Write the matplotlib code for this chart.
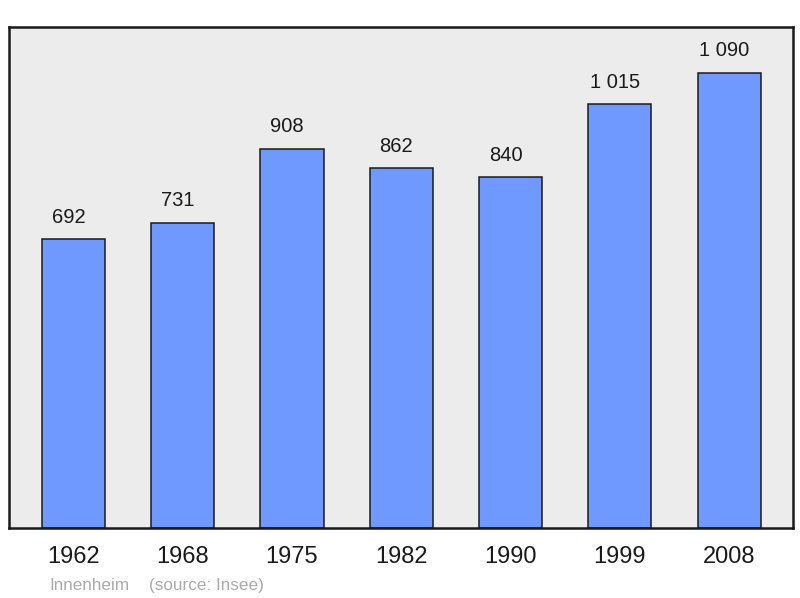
import matplotlib
matplotlib.use("Agg")
import matplotlib.pyplot as plt

years = ["1962", "1968", "1975", "1982", "1990", "1999", "2008"]
population = [692, 731, 908, 862, 840, 1015, 1090]
value_labels = ["692", "731", "908", "862", "840", "1 015", "1 090"]
commune = "Innenheim"
source = "(source: Insee)"

plt.rcParams['font.family'] = ['Liberation Sans', 'DejaVu Sans']

fig = plt.figure(figsize=(8, 5.98), dpi=100)
ax = fig.add_axes([9/800, (598-528)/598, 784/800, 501/598])
ax.set_facecolor('#ececec')

x = list(range(len(years)))
ax.bar(x, population, width=0.577, color='#7099ff', edgecolor='#1a1a1a', linewidth=1.1, zorder=2)
for xi, v, lab in zip(x, population, value_labels):
    ax.annotate(lab, (xi, v), xytext=(-3.6, 9), textcoords='offset points',
                ha='center', va='bottom', fontsize=14.5, color='#1a1a1a')

ax.set_xlim(-0.59, 6.585)
ax.set_ylim(0, 1200)
ax.set_yticks([])
ax.set_xticks(x)
ax.set_xticklabels(years, fontsize=17, color='#1a1a1a')
ax.tick_params(axis='x', length=0, pad=13)
for s in ax.spines.values():
    s.set_linewidth(1.8)
    s.set_color('#1a1a1a')

fig.text(49/800, 1 - 590/598, commune, fontsize=12.3, color='#aaaaaa', ha='left', va='baseline')
fig.text(149/800, 1 - 590/598, source, fontsize=12.3, color='#aaaaaa', ha='left', va='baseline')

fig.savefig('out.png', dpi=100)
